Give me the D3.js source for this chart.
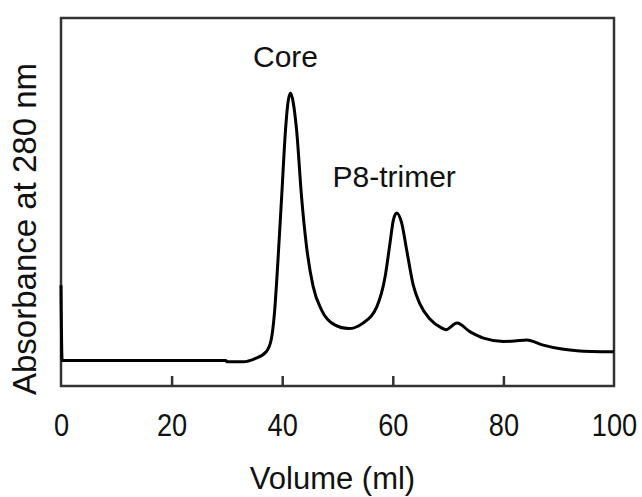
<!DOCTYPE html>
<meta charset="utf-8">
<style>
  body { margin: 0; background: #fff; }
  text { font-family: "Liberation Sans", Arial, sans-serif; fill: #111; }
</style>

<!-- Load d3.js -->
<script src="https://d3js.org/d3.v7.min.js"></script>

<div id="chart"></div>

<script>

// elution volume (ml) and absorbance (arbitrary units)
var volume = [0, 0.2, 10, 20, 29.8, 30, 33, 35, 37.1, 38.0, 38.6, 39.2, 39.9, 40.6, 41.0, 41.5, 42.0, 42.6, 43.5, 44.4, 45.6, 47.1, 49.5, 52.0, 54.6, 57.1, 58.6, 59.5, 60.1, 60.7, 61.6, 62.5, 63.7, 64.9, 66.7, 68.8, 69.6, 71.6, 74.0, 76.4, 80, 82, 84.2, 87.2, 90.3, 93.3, 96, 100];
var absorbance = [27.4, 6.9, 6.9, 6.9, 6.9, 6.6, 6.6, 7.4, 9.3, 12.5, 19.8, 33.3, 51.4, 69.6, 76.5, 79.6, 77.0, 69.6, 51.4, 37.9, 27.0, 20.7, 16.6, 15.6, 17.1, 21.5, 29.6, 38.9, 45.1, 47.0, 44.3, 37.0, 27.4, 22.3, 18.2, 15.8, 15.3, 17.1, 14.7, 13.0, 12.1, 12.2, 12.5, 11.1, 10.1, 9.6, 9.4, 9.3];

var xTicks = [0, 20, 40, 60, 80, 100];

// peak labels: text, volume, absorbance at the text baseline
var peakNames = ["Core", "P8-trimer"];
var peakVol = [40.6, 49.1];
var peakAbs = [86.7, 54.2];
var peakAnchor = ["middle", "start"];

var margin = {top: 18, right: 28, bottom: 111, left: 61},
  width = 642 - margin.left - margin.right,
  height = 497 - margin.top - margin.bottom;

var svg = d3.select("#chart")
  .append("svg")
    .attr("width", 642)
    .attr("height", 497)
  .append("g")
    .attr("transform", "translate(" + margin.left + "," + margin.top + ")");

var x = d3.scaleLinear().domain([0, 100]).range([0, width]);
var y = d3.scaleLinear().domain([0, 100]).range([height, 0]);

// frame
svg.append("rect")
  .attr("x", x(0))
  .attr("y", y(100))
  .attr("width", x(100) - x(0))
  .attr("height", y(0) - y(100))
  .style("fill", "none")
  .style("stroke", "#333")
  .style("stroke-width", 2.5);

// bottom axis, ticks point inward
var xAxis = svg.append("g")
  .attr("transform", "translate(0," + height + ")")
  .call(d3.axisBottom(x).tickValues(xTicks).tickSize(-10).tickPadding(27));
xAxis.select(".domain").remove();
xAxis.selectAll(".tick line")
  .style("stroke", "#333")
  .style("stroke-width", 2.5)
  .style("display", function(d) { return (d == 0 || d == 100) ? "none" : null; });
xAxis.selectAll(".tick text")
  .attr("transform", "scale(0.85,1)")
  .style("font-family", "'Liberation Sans', Arial, sans-serif")
  .style("font-size", "32px")
  .style("fill", "#111");

// axis titles
svg.append("text")
  .attr("x", 332.5 - margin.left)
  .attr("y", 489 - margin.top)
  .attr("text-anchor", "middle")
  .style("font-size", "31px")
  .text("Volume (ml)");

svg.append("text")
  .attr("transform", "translate(" + (36 - margin.left) + "," + (229 - margin.top) + ") rotate(-90)")
  .attr("text-anchor", "middle")
  .style("font-size", "33px")
  .text("Absorbance at 280 nm");

// the trace
var trace = volume.map(function(v, i) { return [v, absorbance[i]]; });

svg.append("path")
  .datum(trace)
  .attr("d", d3.line()
    .curve(d3.curveMonotoneX)
    .x(function(d) { return x(d[0]); })
    .y(function(d) { return y(d[1]); })
  )
  .style("fill", "none")
  .style("stroke", "#000")
  .style("stroke-width", 3)
  .style("stroke-linejoin", "round");

// peak labels
svg.selectAll(".peak")
  .data(peakNames)
  .enter()
  .append("text")
    .attr("class", "peak")
    .attr("x", function(d, i) { return x(peakVol[i]); })
    .attr("y", function(d, i) { return y(peakAbs[i]); })
    .attr("text-anchor", function(d, i) { return peakAnchor[i]; })
    .style("font-size", "30px")
    .text(function(d) { return d; });

</script>
